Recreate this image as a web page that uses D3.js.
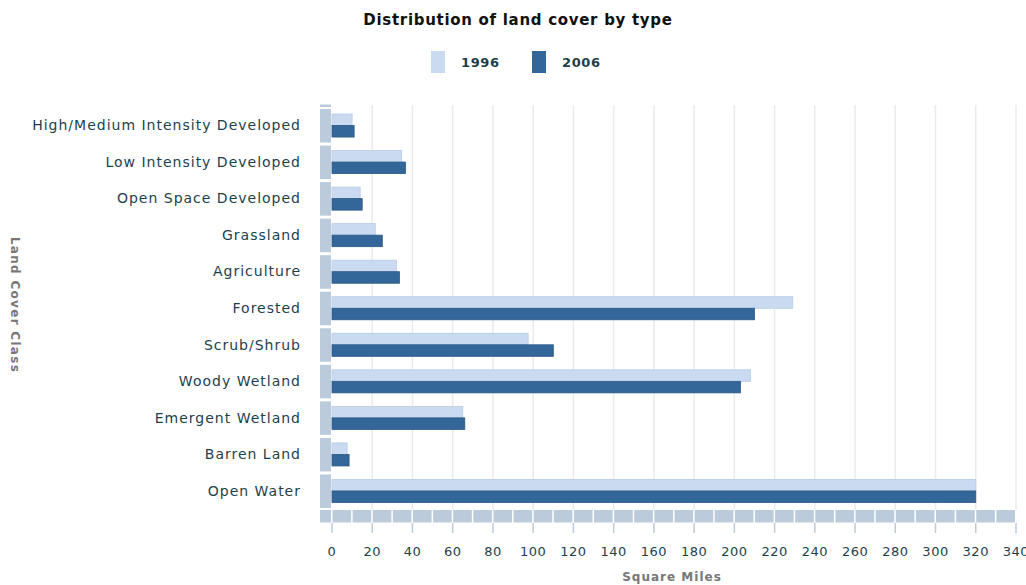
<!DOCTYPE html>
<html>
<head>
<meta charset="utf-8">
<script src="https://cdn.jsdelivr.net/npm/d3@7"></script>
<style>
  body { margin: 0; background: #fff; }
  svg { font-family: "DejaVu Sans", Verdana, sans-serif; }
</style>
</head>
<body>
<svg id="chart" width="1026" height="585"></svg>
<script>
// land cover classes, top to bottom
const categories = [
  "High/Medium Intensity Developed",
  "Low Intensity Developed",
  "Open Space Developed",
  "Grassland",
  "Agriculture",
  "Forested",
  "Scrub/Shrub",
  "Woody Wetland",
  "Emergent Wetland",
  "Barren Land",
  "Open Water"
];
const seriesNames = ["1996", "2006"];
const values1996 = [10, 34.5, 14, 21.5, 32, 229, 97.5, 208, 65, 7.5, 320];
const values2006 = [11, 36.5, 15, 25, 33.5, 210, 110, 203, 66, 8.5, 320];
const xTicks = d3.range(0, 341, 20);

const colors = { "1996": "#c9daf1", "2006": "#336699" };
const strokes = { "1996": "#b7cbe6", "2006": "#2a5886" };

const svg = d3.select("#chart");
const margin = { left: 332, top: 107, bottom: 509 };

const x = d3.scaleLinear().domain([0, 340]).range([margin.left, 1016]);
const y = d3.scaleBand().domain(categories).range([margin.top, margin.bottom]);
const ySeries = d3.scaleBand().domain(seriesNames).range([7, y.bandwidth() - 6.5]);

const rows = categories.map((c, i) => ({ cat: c, "1996": values1996[i], "2006": values2006[i] }));

// title
svg.append("text")
  .attr("x", 518).attr("y", 25)
  .attr("text-anchor", "middle")
  .attr("font-size", 15).attr("font-weight", "bold").attr("fill", "#111")
  .attr("letter-spacing", 0.7)
  .text("Distribution of land cover by type");

// legend
const legendX = { "1996": 431, "2006": 532 };
seriesNames.forEach(s => {
  svg.append("rect")
    .attr("x", legendX[s]).attr("y", 51).attr("width", 14).attr("height", 22)
    .attr("fill", colors[s]);
  svg.append("text")
    .attr("x", legendX[s] + 30).attr("y", 67)
    .attr("font-size", 13).attr("font-weight", "bold").attr("fill", "#1d3f4c")
    .attr("letter-spacing", 0.6)
    .text(s);
});

// gridlines
svg.append("g").selectAll("line").data(xTicks.slice(1)).join("line")
  .attr("x1", d => x(d)).attr("x2", d => x(d))
  .attr("y1", 105).attr("y2", 510)
  .attr("stroke", "#ebebeb").attr("stroke-width", 1.5);

// floor (3d base) split in blocks of 10
const floorBlocks = d3.range(0, 340, 10);
svg.append("rect")
  .attr("x", 320).attr("y", 510).attr("width", 11).attr("height", 12.5)
  .attr("fill", "#bccbdb");
svg.append("g").selectAll("rect").data(floorBlocks).join("rect")
  .attr("x", d => x(d) + 0.5)
  .attr("y", 510)
  .attr("width", d => x(d + 10) - x(d) - 1.5)
  .attr("height", 12.5)
  .attr("fill", "#bccbdb");

// left wall segments
svg.append("rect")
  .attr("x", 320).attr("y", 104.5).attr("width", 11).attr("height", 2.5)
  .attr("fill", "#bccbdb");
svg.append("g").selectAll("rect").data(categories).join("rect")
  .attr("x", 320)
  .attr("y", d => y(d) + 2)
  .attr("width", 11)
  .attr("height", y.bandwidth() - 3)
  .attr("fill", "#bccbdb");

// bars
const groups = svg.append("g").selectAll("g").data(rows).join("g")
  .attr("transform", d => `translate(0,${y(d.cat)})`);
groups.selectAll("rect").data(d => seriesNames.map(s => ({ s, v: d[s] }))).join("rect")
  .attr("x", x(0))
  .attr("y", d => ySeries(d.s))
  .attr("width", d => x(d.v) - x(0))
  .attr("height", ySeries.bandwidth())
  .attr("fill", d => colors[d.s])
  .attr("stroke", d => strokes[d.s])
  .attr("stroke-width", 0.8);

// x axis ticks and labels
const xAxis = svg.append("g");
xAxis.selectAll("line").data(xTicks).join("line")
  .attr("x1", d => x(d)).attr("x2", d => x(d))
  .attr("y1", 523).attr("y2", 533)
  .attr("stroke", "#bccbdb").attr("stroke-width", 1.5);
xAxis.selectAll("text").data(xTicks).join("text")
  .attr("x", d => x(d)).attr("y", 556)
  .attr("text-anchor", "middle")
  .attr("font-size", 13).attr("fill", "#1d3f4c")
  .attr("letter-spacing", 0.5)
  .text(d => d);

// y labels
svg.append("g").selectAll("text").data(categories).join("text")
  .attr("x", 301)
  .attr("y", d => y(d) + y.bandwidth() / 2 + 5)
  .attr("text-anchor", "end")
  .attr("font-size", 14).attr("fill", "#1d3f4c")
  .attr("letter-spacing", 1)
  .text(d => d);

// axis titles
svg.append("text")
  .attr("x", 672).attr("y", 581)
  .attr("text-anchor", "middle")
  .attr("font-size", 12).attr("font-weight", "bold").attr("fill", "#777")
  .attr("letter-spacing", 1)
  .text("Square Miles");
svg.append("text")
  .attr("transform", "translate(11,305) rotate(90)")
  .attr("text-anchor", "middle")
  .attr("font-size", 12).attr("font-weight", "bold").attr("fill", "#777")
  .attr("letter-spacing", 1.3)
  .text("Land Cover Class");
</script>
</body>
</html>
